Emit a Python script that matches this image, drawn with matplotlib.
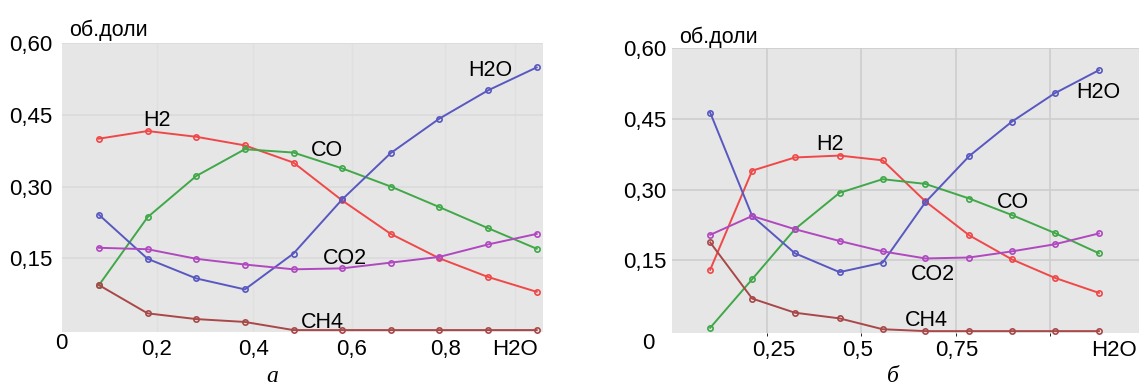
import matplotlib
matplotlib.use("Agg")
import matplotlib.pyplot as plt

plt.rcParams['font.family'] = ['Liberation Sans', 'DejaVu Sans']

# --- chart a ---
xa = [0.1, 0.2, 0.3, 0.4, 0.5, 0.6, 0.7, 0.8, 0.9, 1.0]
a_h2 = [0.400, 0.416, 0.404, 0.386, 0.350, 0.271, 0.201, 0.150, 0.111, 0.080]
a_co = [0.094, 0.236, 0.322, 0.378, 0.371, 0.338, 0.300, 0.257, 0.213, 0.170]
a_h2o = [0.241, 0.149, 0.108, 0.085, 0.160, 0.273, 0.370, 0.442, 0.501, 0.549]
a_co2 = [0.172, 0.169, 0.149, 0.137, 0.127, 0.129, 0.141, 0.153, 0.179, 0.201]
a_ch4 = [0.094, 0.035, 0.023, 0.017, 0.0, 0.0, 0.0, 0.0, 0.0, 0.0]
a_xticks = [0.219, 0.417, 0.62, 0.812, 0.955]
a_xlabels = ['0,2', '0,4', '0,6', '0,8', 'H2O']

# --- chart б ---
xb = [0.101, 0.212, 0.325, 0.443, 0.557, 0.670, 0.786, 0.899, 1.012, 1.129]
b_h2 = [0.130, 0.340, 0.368, 0.372, 0.362, 0.275, 0.203, 0.152, 0.113, 0.081]
b_co = [0.007, 0.110, 0.216, 0.293, 0.322, 0.312, 0.281, 0.246, 0.208, 0.165]
b_h2o = [0.463, 0.244, 0.165, 0.125, 0.145, 0.273, 0.371, 0.444, 0.504, 0.553]
b_co2 = [0.204, 0.244, 0.216, 0.191, 0.169, 0.154, 0.156, 0.169, 0.184, 0.207]
b_ch4 = [0.188, 0.069, 0.039, 0.027, 0.004, 0.0, 0.0, 0.0, 0.0, 0.0]
b_xticks = [0.27, 0.492, 0.754, 1.17]
b_xlabels = ['0,25', '0,5', '0,75', 'H2O']

yticks = [0.15, 0.30, 0.45, 0.60]
ylabels = ['0,15', '0,30', '0,45', '0,60']

colors = {'H2': '#f04848', 'CO': '#40a848', 'H2O': '#5858c0',
          'CO2': '#b048c0', 'CH4': '#a84848'}

W, H = 1139, 389
fig = plt.figure(figsize=(W / 100, H / 100), dpi=100)


def px_axes(l, t, r, b):
    return fig.add_axes([l / W, (H - b) / H, (r - l) / W, (b - t) / H])


def draw(ax, x, series, xticks, xlabels, grid_c, ypad):
    ax.set_facecolor('#e6e6e6')
    for s in ax.spines.values():
        s.set_visible(False)
    for name, vals in series:
        ax.plot(x, vals, color=colors[name], lw=1.4, marker='o', ms=3.8,
                mfc='none', mew=1.2, clip_on=False, zorder=3)
    ax.set_ylim(-0.004, 0.6)
    ax.set_yticks(yticks)
    ax.set_yticklabels(ylabels, fontsize=16)
    ax.set_xticks(xticks)
    ax.set_xticklabels(xlabels, fontsize=16)
    ax.tick_params(length=0, pad=ypad)
    ax.tick_params(axis='x', pad=5)
    ax.grid(True, color=grid_c, lw=1.2)
    ax.set_axisbelow(True)


axa = px_axes(62, 43, 543, 332)
draw(axa, xa, [('H2', a_h2), ('CO', a_co), ('H2O', a_h2o), ('CO2', a_co2), ('CH4', a_ch4)],
     a_xticks, a_xlabels, '#dadada', 7)
axa.set_xlim(0.024, 1.013)
axa.grid(True, axis='x', color='#e0e0e0', lw=1.0)
axa.text(0.012, -0.027, '0', fontsize=16, ha='right', va='center', transform=axa.get_yaxis_transform())

axb = px_axes(672, 48, 1139, 333)
draw(axb, xb, [('H2', b_h2), ('CO', b_co), ('H2O', b_h2o), ('CO2', b_co2), ('CH4', b_ch4)],
     b_xticks, b_xlabels, '#cdcdcd', 4)
axb.set_xlim(0, 1.235)
axb.set_xticks([0.25, 0.5, 0.75, 1.0], minor=True)
axb.grid(False, which='major', axis='x')
axb.grid(True, which='minor', axis='x', color='#cdcdcd', lw=1.2)
axb.text(-0.05, -0.027, '0', fontsize=16, ha='center', va='center', transform=axb.get_yaxis_transform())

# curve labels (figure pixel positions)
labels = [
    ('H2', 157, 120), ('CO', 327, 150), ('H2O', 490, 71), ('CO2', 345, 258),
    ('CH4', 322, 322), ('об.доли', 108, 30),
    ('H2', 830, 145), ('CO', 1013, 202), ('H2O', 1098, 93), ('CO2', 933, 274),
    ('CH4', 926, 320), ('об.доли', 718, 37),
]
for txt, x, y in labels:
    fig.text(x / W, (H - y) / H, txt, fontsize=15.5, ha='center', va='center')

fig.text(272 / W, (H - 376) / H, 'а', fontsize=17, style='italic',
         family='Liberation Serif', ha='center', va='center')
fig.text(893 / W, (H - 376) / H, 'б', fontsize=17, style='italic',
         family='Liberation Serif', ha='center', va='center')

fig.savefig('out.png', dpi=100)
